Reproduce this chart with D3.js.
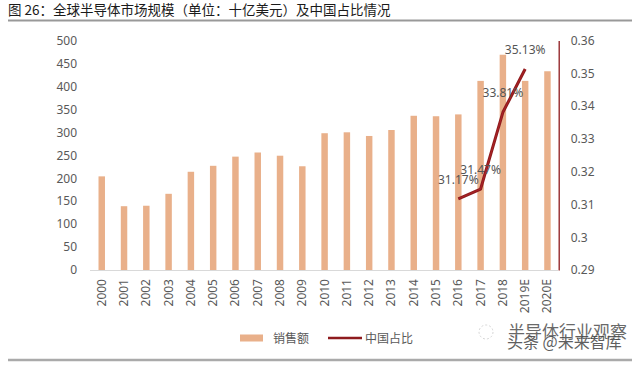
<!DOCTYPE html>
<html><head><meta charset="utf-8">
<script src="https://cdn.jsdelivr.net/npm/d3@7"></script>
<style>body{margin:0;background:#fff;}svg{display:block;font-family:"Noto Sans CJK SC","Noto Sans",sans-serif;}</style>
</head><body>
<svg id="c" width="640" height="365"></svg>
<script>
const years = ["2000","2001","2002","2003","2004","2005","2006","2007","2008","2009","2010","2011","2012","2013","2014","2015","2016","2017","2018","2019E","2020E"];
const sales = [204,139,140,166,214,227,247,256,249,226,298,300,292,305,336,335,339,412,469,412,433];
const shareYears = ["2016","2017","2018","2019E"];
const share = [0.3117,0.3147,0.3381,0.3513];
const shareLabels = ["31.17%","31.47%","33.81%","35.13%"];
const leftTicks = [0,50,100,150,200,250,300,350,400,450,500];
const rightTicks = [0.29,0.30,0.31,0.32,0.33,0.34,0.35,0.36];

const svg = d3.select("#c");
const barColor = "#E9B08A", lineColor = "#8E1B1E", txt = "#595959";

// title
svg.append("text").attr("x",8).attr("y",15).attr("font-size",13.5).attr("fill","#1a1a1a")
  .text("图 26：全球半导体市场规模（单位：十亿美元）及中国占比情况");
svg.append("line").attr("x1",8).attr("x2",632).attr("y1",20.5).attr("y2",20.5).attr("stroke","#999").attr("stroke-width",2);
svg.append("line").attr("x1",8).attr("x2",632).attr("y1",360).attr("y2",360).attr("stroke","#aaa").attr("stroke-width",2.5);

const x = d3.scaleBand().domain(years).range([90.6,558.6]).paddingInner(0.71).paddingOuter(0.355);
const yL = d3.scaleLinear().domain([0,500]).range([270,40.5]);
const yR = d3.scaleLinear().domain([0.29,0.36]).range([270,40.5]);

// left axis
const gl = svg.append("g").attr("transform","translate(84,0)")
  .call(d3.axisLeft(yL).tickValues(leftTicks).tickSize(0).tickPadding(7));
gl.select(".domain").remove();
gl.selectAll("text").attr("font-size",12).attr("fill",txt).attr("font-family","'Noto Sans',sans-serif");

// right axis
const gr = svg.append("g").attr("transform","translate(558.7,0)")
  .call(d3.axisRight(yR).tickValues(rightTicks).tickFormat(d3.format("~g")).tickSize(0).tickPadding(12));
gr.select(".domain").attr("stroke",lineColor).attr("stroke-width",1.3);
gr.selectAll("text").attr("font-size",12).attr("fill",txt).attr("font-family","'Noto Sans',sans-serif");

// baseline
svg.append("line").attr("x1",90).attr("x2",558).attr("y1",270.5).attr("y2",270.5).attr("stroke","#d9d9d9").attr("stroke-width",1);

// bars
svg.append("g").selectAll("rect").data(years).join("rect")
  .attr("x",d=>x(d)).attr("width",x.bandwidth())
  .attr("y",(d,i)=>yL(sales[i])).attr("height",(d,i)=>270-yL(sales[i]))
  .attr("fill",barColor);

// x labels
svg.append("g").selectAll("text").data(years).join("text")
  .attr("transform",d=>`translate(${x(d)+x.bandwidth()/2+4},279) rotate(-90)`)
  .attr("text-anchor","end").attr("font-size",12).attr("fill",txt)
  .attr("font-family","'Noto Sans',sans-serif").text(d=>d);

// line
const cx = d=>x(d)+x.bandwidth()/2;
const line = d3.line().x((d,i)=>cx(shareYears[i])).y(d=>yR(d));
svg.append("path").datum(share).attr("d",line).attr("fill","none")
  .attr("stroke",lineColor).attr("stroke-width",3).attr("stroke-linejoin","round");
svg.append("path").datum(share).attr("d",line).attr("fill","none")
  .attr("stroke","#c0282a").attr("stroke-width",1).attr("opacity",0.6);

svg.append("g").selectAll("text").data(share).join("text")
  .attr("x",(d,i)=>cx(shareYears[i])).attr("y",d=>yR(d)-15)
  .attr("text-anchor","middle").attr("font-size",12).attr("fill","#555")
  .attr("font-family","'Noto Sans',sans-serif").text((d,i)=>shareLabels[i]);

// legend
svg.append("rect").attr("x",240).attr("y",334.5).attr("width",23).attr("height",7).attr("fill",barColor);
svg.append("text").attr("x",273).attr("y",342.5).attr("font-size",12).attr("fill",txt).text("销售额");
svg.append("line").attr("x1",328).attr("x2",362).attr("y1",338).attr("y2",338).attr("stroke",lineColor).attr("stroke-width",2.5);
svg.append("text").attr("x",365).attr("y",342.5).attr("font-size",12).attr("fill",txt).text("中国占比");

// watermark
const wm = svg.append("g").attr("fill","#444").attr("stroke","#fff").attr("stroke-width",0.6).attr("paint-order","stroke");
wm.append("circle").attr("cx",486).attr("cy",332).attr("r",7).attr("fill","none").attr("stroke","#bbb").attr("stroke-dasharray","2,2");
wm.append("text").attr("x",508).attr("y",338).attr("font-size",17).attr("opacity",0.8).text("半导体行业观察");
wm.append("text").attr("x",507).attr("y",348).attr("font-size",16).attr("opacity",0.85).text("头条 @未来智库");
</script>
</body></html>
